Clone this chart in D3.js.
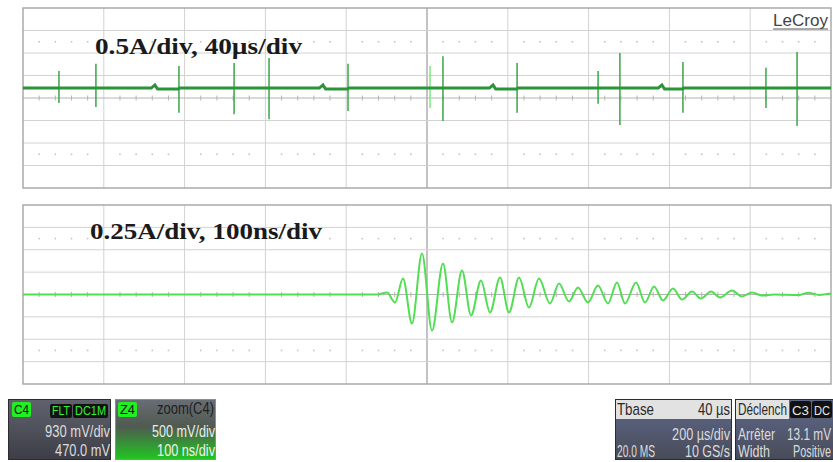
<!DOCTYPE html>
<html lang="en">
<head>
<meta charset="UTF-8">
<title>LeCroy capture</title>
<script src="https://d3js.org/d3.v7.min.js"></script>
<style>
  body { margin: 0; background: #fff; }
  svg { display: block; }
</style>
</head>
<body>
<script>
// top trace: 0.5 A/div, 40 us/div  [time us, current A]
const topTrace = [
  [0, 0.22], [63.5, 0.22], [65.3, 0.29], [66.6, 0.2], [77.0, 0.2], [77.6, 0.22],
  [146.7, 0.22], [148.5, 0.29], [149.8, 0.2], [160.7, 0.2], [161.3, 0.22],
  [230.9, 0.22], [232.7, 0.29], [234.0, 0.2], [244.4, 0.2], [245.0, 0.22],
  [314.5, 0.22], [316.3, 0.29], [317.6, 0.2], [326.5, 0.2], [327.1, 0.22],
  [400, 0.22]
];
const spikeTimes = [17.8, 36.1, 77.2, 104.5, 121.8, 160.9, 201.5, 207.9, 244.6, 284.7, 295.5, 326.7, 367.8, 383.2];
const spikeHigh = [0.60, 0.76, 0.71, 0.78, 0.89, 0.76, 0.71, 0.93, 0.78, 0.60, 1.00, 0.80, 0.67, 1.02];
const spikeLow = [-0.11, -0.20, -0.33, -0.36, -0.47, -0.29, -0.22, -0.51, -0.33, -0.13, -0.60, -0.33, -0.22, -0.62];
const triggerSpike = 6;

// bottom trace: 0.25 A/div, 100 ns/div  (zoomed ringing)
const ringTime = [0, 438, 450.5, 460.4, 470.3, 481.4, 493.8, 506.2, 519.8, 531, 543.3, 554.5, 566.8, 578,
  590.3, 601.5, 613.9, 626.2, 638.6, 652.2, 663.4, 675.7, 686.9, 699.2, 711.6, 724, 735.1, 745, 758.7,
  769.8, 781, 792, 804.5, 815.6, 828, 839, 851.5, 862.6, 877.5, 889.8, 902.2, 914.6, 930, 960, 972, 985, 1000];
const ringAmp = [0, 0, 0.022, -0.089, 0.179, -0.324, 0.458, -0.402, 0.346, -0.312, 0.268, -0.234, 0.156, -0.2,
  0.19, -0.2, 0.19, -0.145, 0.179, -0.1, 0.123, -0.078, 0.078, -0.089, 0.1, -0.1, 0.134, -0.1, 0.134,
  -0.089, 0.089, -0.067, 0.067, -0.056, 0.033, -0.045, 0.033, -0.033, 0.045, -0.022, 0.022, -0.011, 0, -0.005, 0.02, -0.005, 0.01];

const labels = ["0.5A/div, 40\u00b5s/div", "0.25A/div, 100ns/div"];

const width = 833, height = 462;
const left = 23, right = 831;

const svg = d3.select("body").append("svg")
    .attr("width", width)
    .attr("height", height);

const defs = svg.append("defs");

function drawGrid(y0, y1) {
  const xd = d3.scaleLinear().domain([0, 10]).range([left, right]);
  const yd = d3.scaleLinear().domain([-4, 4]).range([y1, y0]);
  const g = svg.append("g");

  g.selectAll(".v").data(d3.range(1, 10)).join("line")
    .attr("x1", d => xd(d)).attr("x2", d => xd(d))
    .attr("y1", y0).attr("y2", y1)
    .attr("stroke", d => d === 5 ? "#a9a9a9" : "#d2d2d2")
    .attr("stroke-width", d => d === 5 ? 1.4 : 1);

  g.selectAll(".h").data(d3.range(-3, 4)).join("line")
    .attr("x1", left).attr("x2", right)
    .attr("y1", d => yd(d)).attr("y2", d => yd(d))
    .attr("stroke", d => d === 0 ? "#b4b4b4" : "#d2d2d2")
    .attr("stroke-width", 1);

  // minor ticks on the centre line
  const sub = d3.range(0, 50).map(i => i / 5).filter(v => v % 1 !== 0);
  g.selectAll(".t").data(sub).join("line")
    .attr("x1", d => xd(d)).attr("x2", d => xd(d))
    .attr("y1", yd(0) - 2.5).attr("y2", yd(0) + 2.5)
    .attr("stroke", "#b4b4b4").attr("stroke-width", 1);

  // dotted rows
  [-2.5, 2.5].forEach(r => {
    g.selectAll(null).data(sub).join("rect")
      .attr("x", d => xd(d) - 0.8).attr("y", yd(r) - 0.8)
      .attr("width", 1.6).attr("height", 1.6)
      .attr("fill", "#c4c4c4");
  });

  g.append("rect")
    .attr("x", left).attr("y", y0)
    .attr("width", right - left).attr("height", y1 - y0)
    .attr("fill", "none").attr("stroke", "#a4a4a4").attr("stroke-width", 1.4);
}

// ---- top panel
const topY0 = 8, topY1 = 188;
drawGrid(topY0, topY1);
const xTop = d3.scaleLinear().domain([0, 400]).range([left, right]);
const yTop = d3.scaleLinear().domain([-2, 2]).range([topY1, topY0]);

svg.append("g").selectAll("line").data(spikeTimes).join("line")
    .attr("x1", d => xTop(d)).attr("x2", d => xTop(d))
    .attr("y1", (d, i) => yTop(spikeHigh[i]))
    .attr("y2", (d, i) => yTop(spikeLow[i]))
    .attr("stroke", (d, i) => i === triggerSpike ? "#7ee87e" : "#3aa548")
    .attr("stroke-width", 1.5);

svg.append("path")
    .datum(topTrace)
    .attr("fill", "none")
    .attr("stroke", "#2b9338")
    .attr("stroke-width", 3)
    .attr("d", d3.line().x(d => xTop(d[0])).y(d => yTop(d[1])));

// ---- bottom panel
const botY0 = 205, botY1 = 384;
drawGrid(botY0, botY1);
const xBot = d3.scaleLinear().domain([0, 1000]).range([left, right]);
const yBot = d3.scaleLinear().domain([-1, 1]).range([botY1, botY0]);

svg.append("path")
    .datum(ringTime.map((t, i) => [t, ringAmp[i]]))
    .attr("fill", "none")
    .attr("stroke", "#52de52")
    .attr("stroke-width", 2)
    .attr("d", d3.line().x(d => xBot(d[0])).y(d => yBot(d[1])).curve(d3.curveMonotoneX));

// ---- annotations
svg.append("text").text(labels[0])
    .attr("x", 95).attr("y", 54)
    .attr("font-family", "Liberation Serif, serif").attr("font-weight", "bold")
    .attr("font-size", 23).attr("fill", "#1a1a1a")
    .attr("textLength", 207).attr("lengthAdjust", "spacingAndGlyphs");

svg.append("text").text(labels[1])
    .attr("x", 90).attr("y", 239)
    .attr("font-family", "Liberation Serif, serif").attr("font-weight", "bold")
    .attr("font-size", 24).attr("fill", "#1a1a1a")
    .attr("textLength", 232).attr("lengthAdjust", "spacingAndGlyphs");

svg.append("text").text("LeCroy")
    .attr("x", 773).attr("y", 26)
    .attr("font-family", "Liberation Sans, Arial, sans-serif")
    .attr("font-size", 17).attr("fill", "#444")
    .attr("textLength", 55).attr("lengthAdjust", "spacingAndGlyphs");
svg.append("line").attr("x1", 773).attr("x2", 828).attr("y1", 29).attr("y2", 29)
    .attr("stroke", "#555").attr("stroke-width", 1.2);

// ---- status boxes
const narrow = "Liberation Sans, Arial, sans-serif";

function grad(id, stops) {
  const lg = defs.append("linearGradient").attr("id", id)
      .attr("x1", 0).attr("y1", 0).attr("x2", 0).attr("y2", 1);
  stops.forEach(s => lg.append("stop").attr("offset", s[0]).attr("stop-color", s[1]));
}
grad("gDark", [[0, "#60636e"], [0.45, "#50525c"], [1, "#3c3d46"]]);
grad("gZoom", [[0, "#6a6d76"], [0.45, "#4f5a50"], [1, "#20c820"]]);
grad("gBlue", [[0, "#5f6888"], [0.5, "#545a72"], [1, "#474a57"]]);

function box(id, x, y, w, h, fill, stroke) {
  defs.append("clipPath").attr("id", id).append("rect")
      .attr("x", x).attr("y", y).attr("width", w).attr("height", h);
  const g = svg.append("g").attr("clip-path", `url(#${id})`);
  g.append("rect").attr("x", x).attr("y", y).attr("width", w).attr("height", h)
      .attr("fill", fill).attr("stroke", stroke).attr("stroke-width", 2);
  return g;
}
// len = width measured in the reference; the scope's narrow font is imitated by scaling x
function txt(g, s, x, y, len, o) {
  o = o || {};
  const t = g.append("text").text(s).attr("x", 0).attr("y", 0)
      .attr("font-family", narrow).attr("font-size", o.size || 16)
      .attr("fill", o.fill || "#dcdcdc")
      .attr("text-anchor", o.anchor || "start");
  const sx = len / t.node().getComputedTextLength();
  t.attr("transform", `translate(${x},${y}) scale(${sx},1)`);
  return t;
}
function badge(g, s, x, y, w, h, bg, fg) {
  g.append("rect").attr("x", x).attr("y", y).attr("width", w).attr("height", h)
      .attr("rx", 2).attr("fill", bg);
  txt(g, s, x + w / 2, y + h - 3, w - 4, { size: 12, fill: fg, anchor: "middle" });
}

const b1 = box("c1", 8, 399, 103, 61, "url(#gDark)", "#2b2b30");
badge(b1, "C4", 12, 402, 19, 15, "#22ee22", "#111");
badge(b1, "FLT", 50, 404, 22, 14, "#121212", "#33ee33");
badge(b1, "DC1M", 73, 404, 35, 14, "#121212", "#33ee33");
txt(b1, "930 mV/div", 110, 437, 65, { anchor: "end" });
txt(b1, "470.0 mV", 110, 456, 55, { anchor: "end" });

const b2 = box("c2", 115, 399, 101, 61, "url(#gZoom)", "#33cc33");
badge(b2, "Z4", 118, 402, 19, 15, "#22ee22", "#111");
txt(b2, "zoom(C4)", 214, 414, 57, { anchor: "end", fill: "#1e1e22" });
txt(b2, "500 mV/div", 215, 437, 63, { anchor: "end", fill: "#ececec" });
txt(b2, "100 ns/div", 215, 456, 58, { anchor: "end", fill: "#f2f2f2" });

const b3 = box("c3", 615, 399, 117, 61, "url(#gBlue)", "#2b2b30");
b3.append("rect").attr("x", 616).attr("y", 400).attr("width", 115).attr("height", 19).attr("fill", "#e2e2e2");
txt(b3, "Tbase", 617, 415, 37, { fill: "#2a2a2a" });
txt(b3, "40 \u00b5s", 730, 415, 32, { anchor: "end", fill: "#2a2a2a" });
txt(b3, "200 \u00b5s/div", 730, 440, 58, { anchor: "end" });
txt(b3, "20.0 MS", 617, 457, 38);
txt(b3, "10 GS/s", 730, 457, 45, { anchor: "end" });

const b4 = box("c4", 735, 399, 100, 61, "url(#gBlue)", "#2b2b30");
b4.append("rect").attr("x", 736).attr("y", 400).attr("width", 53).attr("height", 19).attr("fill", "#e2e2e2");
txt(b4, "D\u00e9clench", 738, 415, 49, { fill: "#2a2a2a" });
badge(b4, "C3", 790, 401, 21, 17, "#111", "#e6e6e6");
badge(b4, "DC", 812, 401, 20, 17, "#111", "#e6e6e6");
txt(b4, "Arr\u00eater", 738, 440, 37);
txt(b4, "13.1 mV", 831, 440, 44, { anchor: "end" });
txt(b4, "Width", 738, 457, 32);
txt(b4, "Positive", 831, 457, 38, { anchor: "end" });
</script>
</body>
</html>
